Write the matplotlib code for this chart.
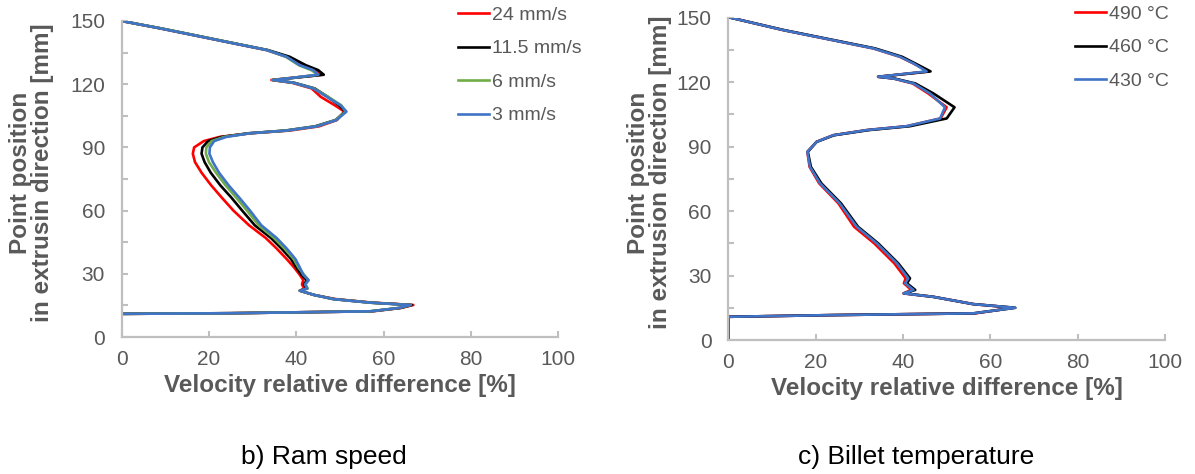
#!/usr/bin/env python3
import matplotlib

matplotlib.use("Agg")
import matplotlib.pyplot as plt

plt.rcParams["font.family"] = ["Liberation Sans", "DejaVu Sans"]

GREY_TEXT = "#595959"
GREY_AXIS = "#BFBFBF"

# b) ram speed: shared point positions along the extrusion direction [mm]
RAM_POS = [0, 11, 11.3, 12.2, 13.8, 15.2, 16.3, 18, 20, 22, 23, 25, 27, 29.5,
           33, 37, 42, 47, 53, 60, 66, 72, 78, 83, 87, 90, 93, 95, 96.7, 98,
           100, 103, 107, 110, 114, 118, 120.7, 122, 122.7, 124.5, 126.7, 129,
           133, 136.2, 139.4, 143.3, 146.5, 150]
RAM_LABELS = ["24 mm/s", "11.5 mm/s", "6 mm/s", "3 mm/s"]
RAM_24 = [0, 0, 25, 57.5, 64, 66.8, 57.5, 49, 44, 40.8, 41.8, 41.3, 41.6, 40.8,
          39.5, 37.8, 35.5, 33.0, 29.2, 25.6, 23.0, 20.5, 18.3, 16.8, 16.3, 16.6,
          18.8, 22.5, 29.5, 38.5, 45.2, 49.3, 51.0, 48.8, 45.6, 43.5, 39.0, 34.3,
          37.5, 46.0, 44.5, 41.2, 37.8, 33.2, 25.6, 16.4, 8.8, 0]
RAM_11 = [0, 0, 25, 57, 63.8, 66.4, 57, 48.5, 44, 40.8, 42.4, 41.8, 42.4, 41.2,
          40.0, 38.8, 36.6, 34.2, 30.5, 27.6, 25.2, 22.6, 20.4, 19.0, 18.3, 18.5,
          19.8, 23.0, 29.0, 37.5, 44.3, 49.0, 51.2, 49.8, 47.2, 44.2, 39.5, 34.6,
          38.0, 46.3, 45.0, 42.2, 38.5, 33.5, 25.8, 16.6, 9.0, 0]
RAM_6 = [0, 0, 25, 57, 63.5, 66.2, 57, 48.5, 44, 40.8, 42.6, 42.1, 42.8, 41.8,
         40.5, 39.4, 37.3, 34.9, 31.4, 28.7, 26.3, 23.8, 21.6, 20.0, 19.3, 19.4,
         20.6, 23.5, 29.3, 37.8, 44.6, 49.0, 51.3, 50.3, 47.3, 44.0, 39.3, 34.5,
         37.8, 45.0, 43.4, 40.6, 37.6, 33.3, 25.8, 16.6, 9.0, 0]
RAM_3 = [0, 0, 25, 57, 63.5, 66.2, 57, 48.5, 44, 40.8, 42.5, 42.0, 42.8, 41.6,
         40.8, 39.8, 37.8, 35.5, 32.0, 29.4, 27.0, 24.5, 22.3, 20.9, 20.1, 20.2,
         21.2, 24.0, 29.4, 37.8, 44.7, 49.2, 51.5, 50.1, 47.0, 43.9, 39.3, 34.7,
         37.8, 45.0, 43.9, 40.8, 37.8, 33.2, 25.6, 16.4, 8.8, 0]

# c) billet temperature
TEMP_POS = [0, 10.8, 11.6, 12.4, 15, 16.7, 20.1, 21.7, 23.3, 26.4, 28.7, 35.7,
            45, 52.7, 63.6, 72.9, 80.6, 87.6, 92.2, 95.3, 97.7, 99.5, 103.1,
            108.3, 114.7, 119.4, 121.7, 122.5, 125, 128.7, 131.8, 135.7, 139.5,
            144.2, 150]
TEMP_LABELS = ["490 °C", "460 °C", "430 °C"]
TEMP_490 = [0, 0, 24, 56.5, 65.3, 56.1, 46.9, 40.1, 41.9, 40.2, 40.6, 38.0, 33.4,
            28.8, 25.2, 20.8, 18.6, 18.1, 20.2, 24, 31.7, 40.9, 48.6, 50.0, 45.8,
            42.2, 37.8, 34.3, 46.0, 42.4, 39.3, 33.2, 24, 12.6, 0.5]
TEMP_460 = [0, 0, 24, 56.1, 65.7, 56.1, 46.9, 40.3, 42.8, 40.9, 41.6, 38.9, 34.3,
            29.7, 25.8, 21.3, 18.9, 18.2, 20.2, 24.2, 32.2, 41.6, 50.0, 51.8, 47.0,
            42.8, 38.0, 34.3, 46.3, 42.8, 39.8, 33.6, 24.3, 12.8, 0.5]
TEMP_430 = [0, 0, 24, 56.1, 65.7, 56.1, 46.9, 40.1, 42.4, 40.5, 41.2, 38.6, 34.0,
            29.4, 25.5, 21.0, 18.7, 18.1, 20.2, 24, 31.7, 40.8, 48.5, 49.6, 46.2,
            42.4, 37.8, 34.3, 45.4, 42.4, 39.3, 33.2, 24, 12.6, 0.5]

RAM_COLORS = ["#FF0000", "#000000", "#70AD47", "#3F74C6"]
TEMP_COLORS = ["#FF0000", "#000000", "#3F74C6"]


def style_axes(ax, ylabel, label_x):
    ax.set_xlim(0, 100)
    ax.set_ylim(0, 150)
    ax.set_xticks(range(0, 101, 20))
    ax.set_yticks(range(0, 151, 30))
    ax.set_yticks(range(15, 151, 30), minor=True)
    for side in ("top", "right"):
        ax.spines[side].set_visible(False)
    for side in ("left", "bottom"):
        ax.spines[side].set_color(GREY_AXIS)
        ax.spines[side].set_linewidth(1.6)
    ax.tick_params(which="both", direction="in", length=4, width=1.5,
                   color=GREY_AXIS, labelcolor=GREY_TEXT, labelsize=15)
    ax.tick_params(axis="x", pad=9)
    ax.tick_params(axis="y", pad=12)
    ax.set_xlabel("Velocity relative difference [%]", fontsize=17.5, fontweight="bold",
                  color=GREY_TEXT, labelpad=4)
    ax.set_ylabel(ylabel, fontsize=17.5, fontweight="bold", color=GREY_TEXT,
                  linespacing=0.95)
    ax.yaxis.set_label_coords(label_x, 0.52)


def main() -> None:
    fig = plt.figure(figsize=(11.95, 4.74), dpi=100)
    ax_b = fig.add_axes([0.1018, 0.289, 0.3654, 0.6667])
    ax_c = fig.add_axes([0.6095, 0.2827, 0.3654, 0.680])

    for xs, label, color in zip([RAM_24, RAM_11, RAM_6, RAM_3], RAM_LABELS, RAM_COLORS):
        ax_b.plot(xs, RAM_POS, color=color, lw=1.9, label=label)
    for xs, label, color in zip([TEMP_490, TEMP_460, TEMP_430], TEMP_LABELS, TEMP_COLORS):
        ax_c.plot(xs, TEMP_POS, color=color, lw=1.9, label=label)

    style_axes(ax_b, "Point position\nin extrusin direction [mm]", -0.155)
    style_axes(ax_c, "Point position\nin extrusion direction [mm]", -0.128)

    legend_kw = dict(loc="upper left", frameon=False, fontsize=14, borderpad=0,
                     borderaxespad=0, handlelength=1.6, handletextpad=0.15,
                     labelspacing=0.82, labelcolor=GREY_TEXT,
                     bbox_transform=fig.transFigure)
    ax_b.legend(bbox_to_anchor=(0.383, 0.987), **legend_kw)
    ax_c.legend(bbox_to_anchor=(0.8996, 0.989), **legend_kw)

    fig.text(0.271, 1 - 457 / 474, "b) Ram speed", fontsize=19, ha="center", va="center")
    fig.text(0.767, 1 - 457 / 474, "c) Billet temperature", fontsize=19, ha="center",
             va="center")

    fig.savefig("out.png", dpi=100)
    plt.close(fig)


if __name__ == "__main__":
    main()
